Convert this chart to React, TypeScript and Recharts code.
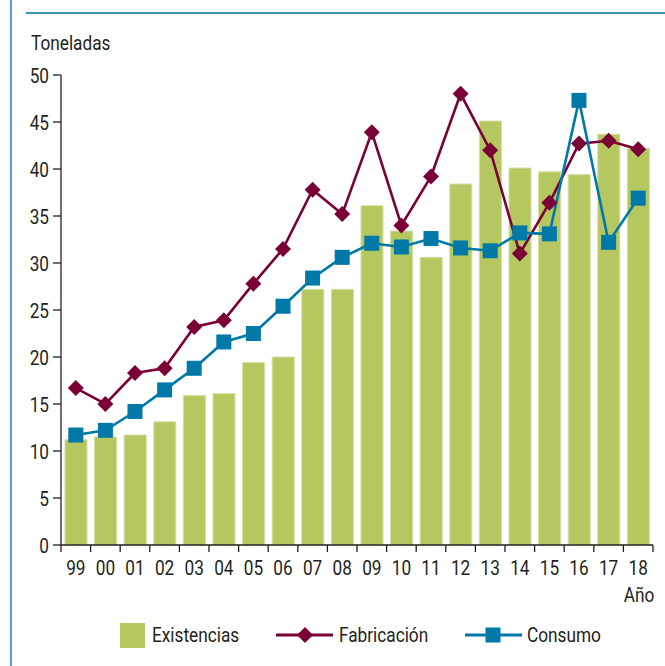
import { ComposedChart, Bar, Line, XAxis, YAxis, Legend } from 'recharts';

const years = ['99', '00', '01', '02', '03', '04', '05', '06', '07', '08', '09', '10', '11', '12', '13', '14', '15', '16', '17', '18'];
const existencias = [11.2, 11.5, 11.7, 13.1, 15.9, 16.1, 19.4, 20.0, 27.2, 27.2, 36.1, 33.4, 30.6, 38.4, 45.1, 40.1, 39.7, 39.4, 43.7, 42.2];
const fabricacion = [16.7, 15.0, 18.3, 18.8, 23.2, 23.9, 27.8, 31.5, 37.8, 35.2, 43.9, 34.0, 39.2, 48.0, 42.0, 31.0, 36.4, 42.7, 43.0, 42.1];
const consumo = [11.7, 12.2, 14.2, 16.5, 18.8, 21.6, 22.5, 25.4, 28.4, 30.6, 32.1, 31.7, 32.6, 31.6, 31.3, 33.2, 33.1, 47.3, 32.2, 36.9];
const yTicks = [0, 5, 10, 15, 20, 25, 30, 35, 40, 45, 50];

const data = years.map((year, i) => ({
  year,
  existencias: existencias[i],
  fabricacion: fabricacion[i],
  consumo: consumo[i],
}));

// condensed look: Roboto squeezed horizontally
const FONT = 'Roboto, sans-serif';
const FS = 21;
const SQUEEZE = 0.82;
const TEXT = '#231f20';
const GREEN = '#b4c85f';
const WINE = '#7a0035';
const BLUE = '#0078a8';

const Diamond = (props: any) => {
  const { cx, cy } = props;
  if (cx == null || cy == null) return null;
  const r = 8;
  return <polygon points={`${cx},${cy - r} ${cx + r},${cy} ${cx},${cy + r} ${cx - r},${cy}`} fill={WINE} />;
};

const Square = (props: any) => {
  const { cx, cy } = props;
  if (cx == null || cy == null) return null;
  const s = 15;
  return <rect x={cx - s / 2} y={cy - s / 2} width={s} height={s} fill={BLUE} />;
};

// year label plus tick marks on the category edges
const XTick = (props: any) => {
  const { x, y, payload } = props;
  const half = payload.offset ?? 14.8;
  const last = payload.value === years[years.length - 1];
  return (
    <g>
      <line x1={x - half} y1={y} x2={x - half} y2={y + 7} stroke={TEXT} strokeWidth={1.3} />
      {last && <line x1={x + half} y1={y} x2={x + half} y2={y + 7} stroke={TEXT} strokeWidth={1.3} />}
      <text
        transform={`translate(${x},${y + 30}) scale(${SQUEEZE},1)`}
        textAnchor="middle"
        fill={TEXT}
        fontSize={FS}
        fontFamily={FONT}
      >
        {payload.value}
      </text>
    </g>
  );
};

const YTick = (props: any) => {
  const { x, y, payload } = props;
  return (
    <text
      transform={`translate(${x},${y + 7.5}) scale(${SQUEEZE},1)`}
      textAnchor="end"
      fill={TEXT}
      fontSize={FS}
      fontFamily={FONT}
    >
      {payload.value}
    </text>
  );
};

const labelStyle = (extra: any) => ({
  position: 'absolute' as const,
  fontFamily: FONT,
  fontSize: FS,
  lineHeight: `${FS}px`,
  color: TEXT,
  whiteSpace: 'nowrap' as const,
  transform: `scaleX(${SQUEEZE})`,
  transformOrigin: 'left center',
  ...extra,
});

const LegendContent = () => (
  <div style={{ position: 'relative', width: 665, height: 30 }}>
    <div style={{ position: 'absolute', left: 120, top: 3, width: 25, height: 25, background: GREEN }} />
    <span style={labelStyle({ left: 152, top: 5 })}>Existencias</span>
    <svg width={57} height={18} style={{ position: 'absolute', left: 276, top: 6 }}>
      <line x1={0} y1={9} x2={57} y2={9} stroke={WINE} strokeWidth={3} />
      <polygon points="29,1 37,9 29,17 21,9" fill={WINE} />
    </svg>
    <span style={labelStyle({ left: 339, top: 5 })}>Fabricación</span>
    <svg width={57} height={18} style={{ position: 'absolute', left: 465, top: 6 }}>
      <line x1={0} y1={9} x2={57} y2={9} stroke={BLUE} strokeWidth={3} />
      <rect x={20.5} y={1.5} width={15} height={15} fill={BLUE} />
    </svg>
    <span style={labelStyle({ left: 527, top: 5 })}>Consumo</span>
  </div>
);

export default function App() {
  return (
    <div style={{ position: 'absolute', left: 0, top: 0, width: 665, height: 666, background: '#fff', overflow: 'hidden' }}>
      {/* frame lines */}
      <div style={{ position: 'absolute', left: 10, top: 0, width: 2, height: 666, background: '#4ea3cc' }} />
      <div style={{ position: 'absolute', left: 26, top: 12, width: 639, height: 2, background: '#3a93bd' }} />

      <span style={labelStyle({ left: 31, top: 33 })}>Toneladas</span>
      <span style={labelStyle({ right: 11, top: 585, transformOrigin: 'right center' })}>Año</span>

      <ComposedChart
        width={665}
        height={666}
        data={data}
        margin={{ top: 75, right: 12, left: 0, bottom: 46 }}
        style={{ position: 'absolute', left: 0, top: 0 }}
      >
        <XAxis
          dataKey="year"
          height={45}
          axisLine={{ stroke: TEXT, strokeWidth: 1.3 }}
          tickLine={false}
          tickSize={0}
          tickMargin={0}
          interval={0}
          tick={<XTick />}
        />
        <YAxis
          width={61}
          domain={[0, 50]}
          ticks={yTicks}
          interval={0}
          tickSize={8}
          tickMargin={4}
          axisLine={{ stroke: TEXT, strokeWidth: 1.3 }}
          tickLine={{ stroke: TEXT, strokeWidth: 1.3 }}
          tick={<YTick />}
        />
        <Legend verticalAlign="bottom" content={<LegendContent />} wrapperStyle={{ left: 0, bottom: 16, width: 665, height: 30 }} />

        <Bar dataKey="existencias" name="Existencias" fill={GREEN} stroke="#d3dea2" strokeWidth={1} barSize={22} isAnimationActive={false} />
        <Line dataKey="fabricacion" name="Fabricación" stroke={WINE} strokeWidth={2.6} dot={<Diamond />} activeDot={false} isAnimationActive={false} />
        <Line dataKey="consumo" name="Consumo" stroke={BLUE} strokeWidth={2.6} dot={<Square />} activeDot={false} isAnimationActive={false} />
      </ComposedChart>
    </div>
  );
}
